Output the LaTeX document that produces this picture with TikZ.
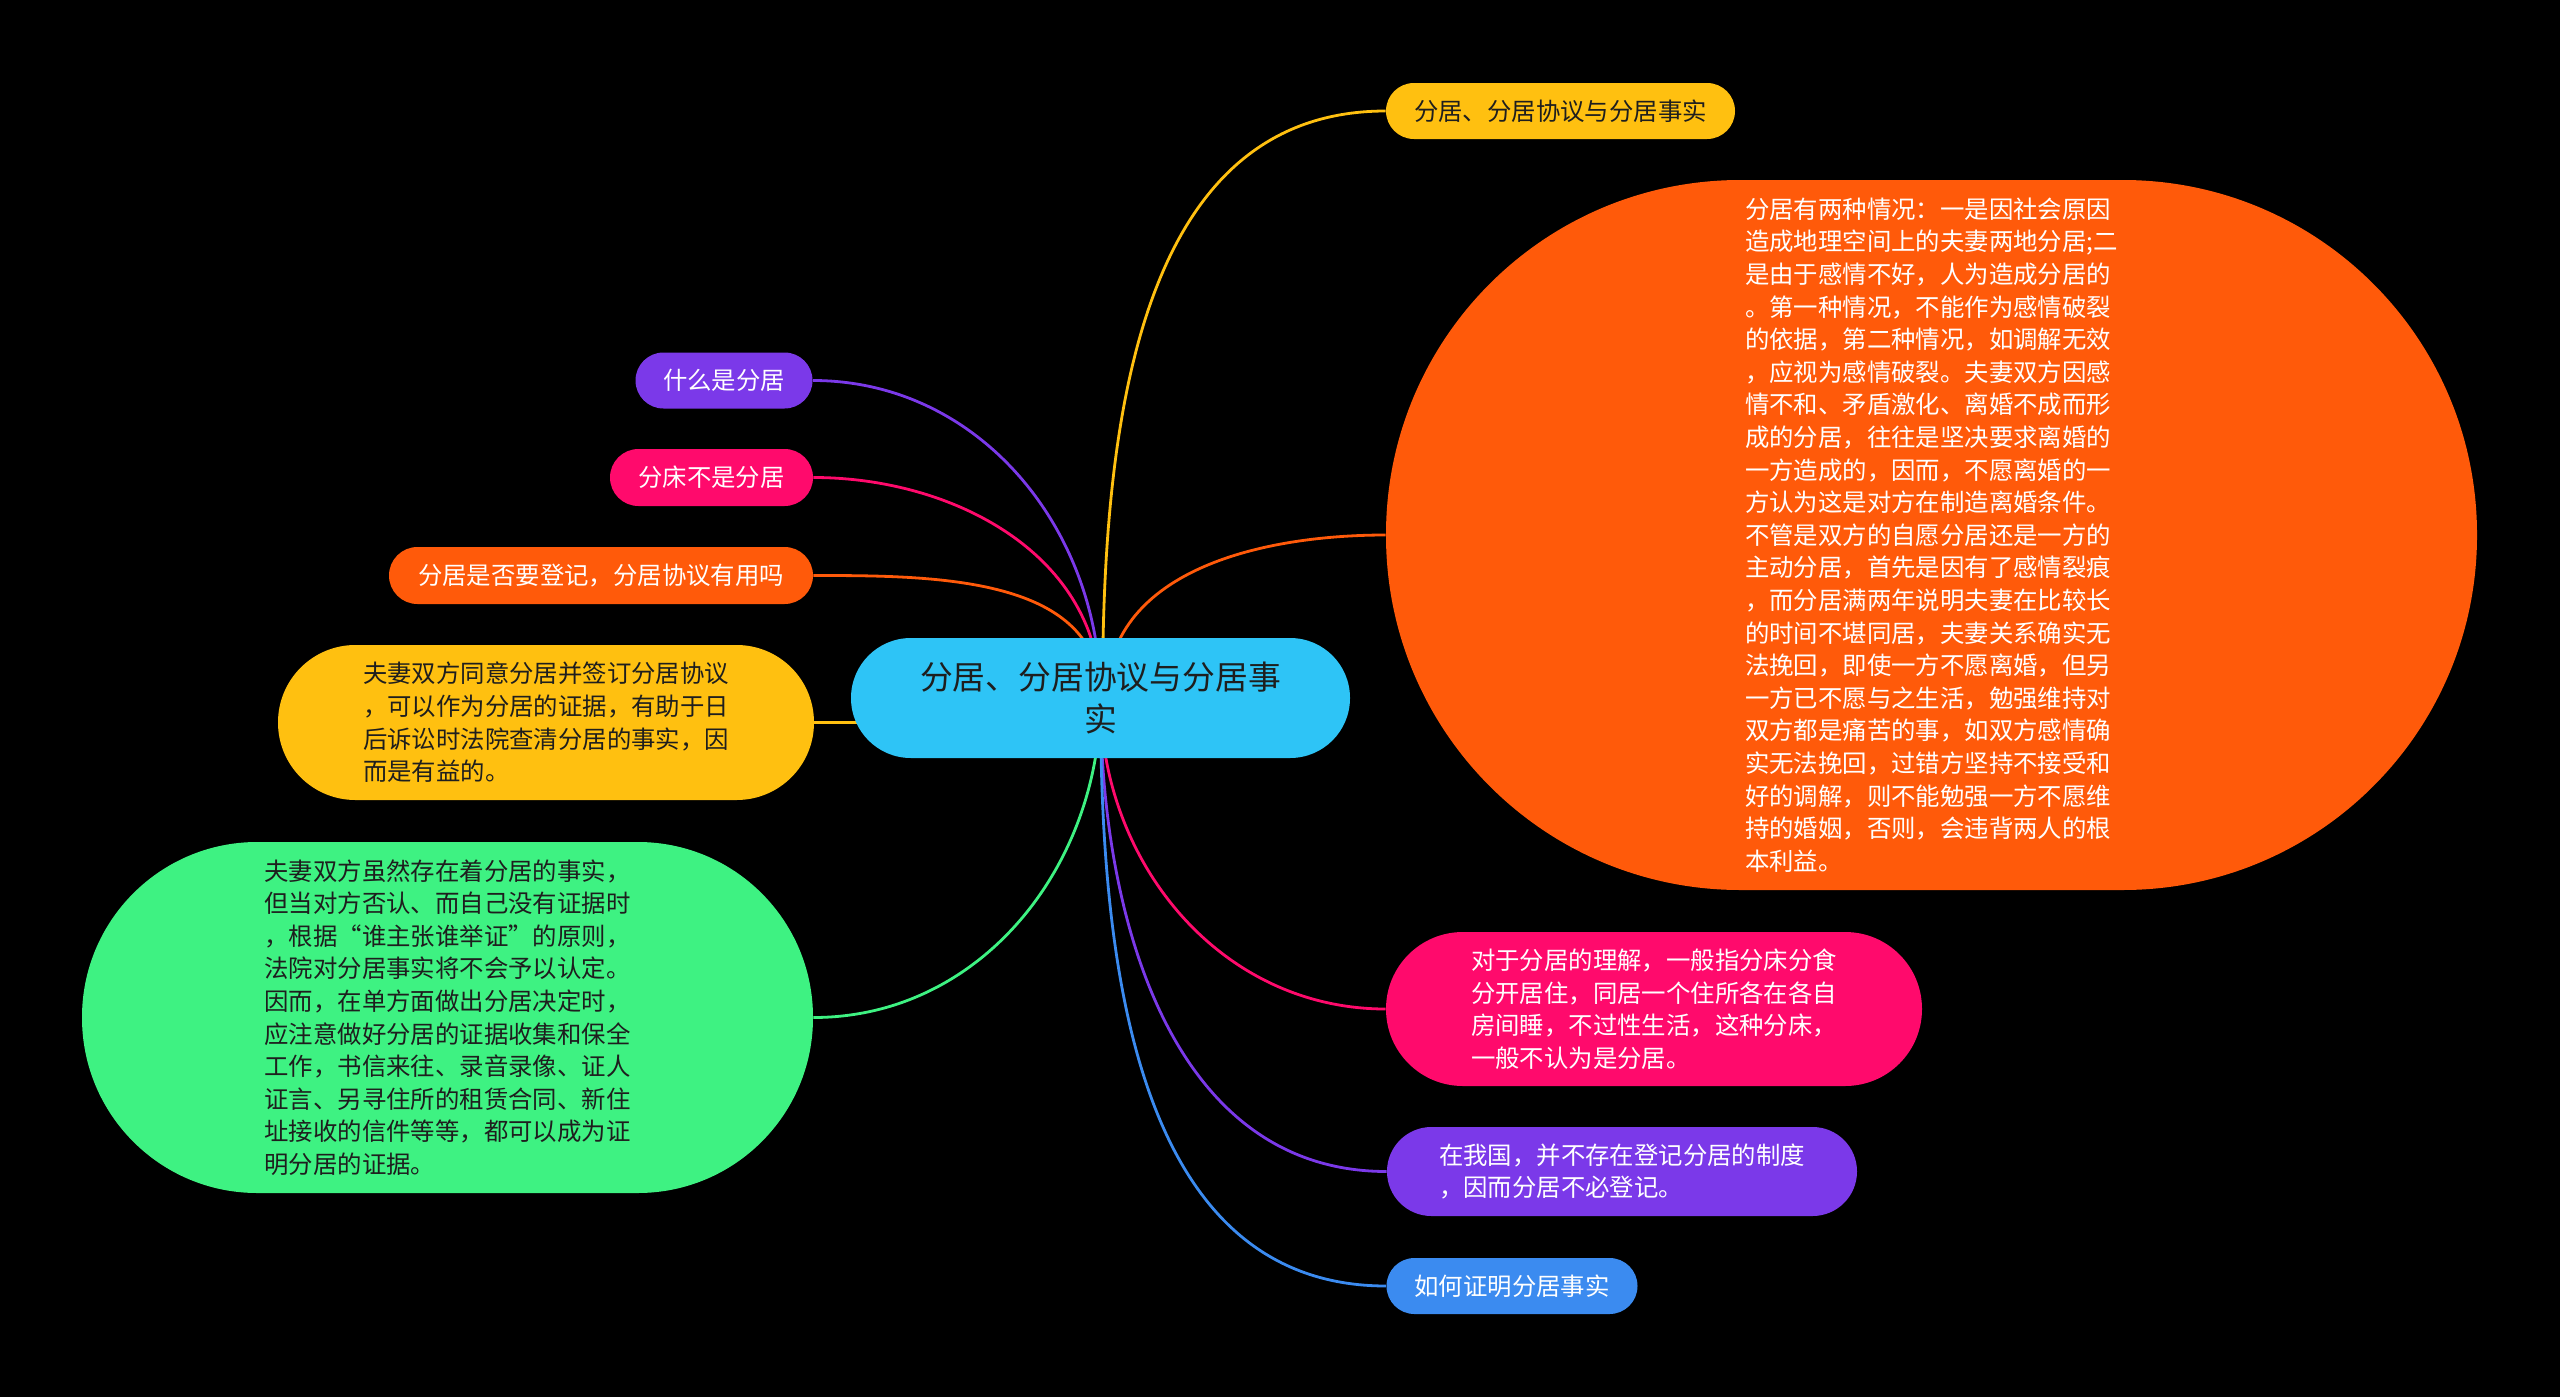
\documentclass[tikz,border=0pt]{standalone}
\usepackage{fontspec}
\setmainfont{Noto Sans CJK SC}
\usetikzlibrary{
	positioning,
	backgrounds
}
\definecolor{rootcolor}{HTML}{2EC4F6}
\definecolor{ambercolor}{HTML}{FFC010}
\definecolor{flamecolor}{HTML}{FF5A0A}
\definecolor{rosecolor}{HTML}{FF0A6C}
\definecolor{violetcolor}{HTML}{7B39E9}
\definecolor{skycolor}{HTML}{3B8BF0}
\definecolor{mintcolor}{HTML}{3EF282}
\definecolor{inkcolor}{HTML}{1E1E1E}
\tikzset{
	topic/.style={
		rectangle,
		inner sep=0pt,
		align=left,
		font=\fontsize{12.2}{16.3}\selectfont
	},
	pill/.style 2 args={
		minimum width=#1,
		minimum height=#2,
		rounded corners=0.499*#2
	},
	darktext/.style={text=inkcolor},
	lighttext/.style={text=white},
	link/.style={
		line width=1.4pt
	}
}

\begin{document}
\begin{tikzpicture}[x=0.5pt, y=-0.5pt]
		\useasboundingbox (0,0) rectangle (2560,1397);
		
		% Root
		\node[topic, pill={249.5pt}{60pt}, fill=rootcolor, darktext, align=center,
		font=\fontsize{16.4}{21}\selectfont] (root) at (1100.5,698)
		{分居、分居协议与分居事\\实};
		
		% Right side
		\node[topic, pill={174.5pt}{28pt}, fill=ambercolor, darktext] (title) at (1560.5,111)
		{分居、分居协议与分居事实};
		
		\node[topic, pill={545.5pt}{355pt}, fill=flamecolor, lighttext] (twokinds) at (1931.5,535)
		{分居有两种情况：一是因社会原因\\
			造成地理空间上的夫妻两地分居;二\\
			是由于感情不好，人为造成分居的\\
			。第一种情况，不能作为感情破裂\\
			的依据，第二种情况，如调解无效\\
			，应视为感情破裂。夫妻双方因感\\
			情不和、矛盾激化、离婚不成而形\\
			成的分居，往往是坚决要求离婚的\\
			一方造成的，因而，不愿离婚的一\\
			方认为这是对方在制造离婚条件。\\
			不管是双方的自愿分居还是一方的\\
			主动分居，首先是因有了感情裂痕\\
			，而分居满两年说明夫妻在比较长\\
			的时间不堪同居，夫妻关系确实无\\
			法挽回，即使一方不愿离婚，但另\\
			一方已不愿与之生活，勉强维持对\\
			双方都是痛苦的事，如双方感情确\\
			实无法挽回，过错方坚持不接受和\\
			好的调解，则不能勉强一方不愿维\\
			持的婚姻，否则，会违背两人的根\\
			本利益。};
		
		\node[topic, pill={268pt}{77pt}, fill=rosecolor, lighttext] (bedsplit) at (1654,1009)
		{对于分居的理解，一般指分床分食\\
			分开居住，同居一个住所各在各自\\
			房间睡，不过性生活，这种分床，\\
			一般不认为是分居。};
		
		\node[topic, pill={235pt}{44.5pt}, fill=violetcolor, lighttext] (noregister) at (1622,1171.5)
		{在我国，并不存在登记分居的制度\\
			，因而分居不必登记。};
		
		\node[topic, pill={125.5pt}{28pt}, fill=skycolor, lighttext] (howprove) at (1512,1286)
		{如何证明分居事实};
		
		% Left side
		\node[topic, pill={88.5pt}{28pt}, fill=violetcolor, lighttext] (whatis) at (724,380.5)
		{什么是分居};
		
		\node[topic, pill={101.5pt}{28.5pt}, fill=rosecolor, lighttext] (notbed) at (711.5,477.5)
		{分床不是分居};
		
		\node[topic, pill={212pt}{28.5pt}, fill=flamecolor, lighttext] (register) at (601,575.5)
		{分居是否要登记，分居协议有用吗};
		
		\node[topic, pill={268pt}{77.5pt}, fill=ambercolor, darktext] (agreement) at (546,722.5)
		{夫妻双方同意分居并签订分居协议\\
			，可以作为分居的证据，有助于日\\
			后诉讼时法院查清分居的事实，因\\
			而是有益的。};
		
		\node[topic, pill={365.5pt}{175.5pt}, fill=mintcolor, darktext] (evidence) at (447.5,1017.5)
		{夫妻双方虽然存在着分居的事实，\\
			但当对方否认、而自己没有证据时\\
			，根据“谁主张谁举证”的原则，\\
			法院对分居事实将不会予以认定。\\
			因而，在单方面做出分居决定时，\\
			应注意做好分居的证据收集和保全\\
			工作，书信来往、录音录像、证人\\
			证言、另寻住所的租赁合同、新住\\
			址接收的信件等等，都可以成为证\\
			明分居的证据。};
		
		% Connectors (start under the root)
		\begin{scope}[on background layer]
			\fill[black] (0,0) rectangle (2560,1397);
			
			\draw[link, ambercolor] ([xshift=1pt]root.center) to[out=90, in=180] (title.west);
			\draw[link, flamecolor] ([xshift=3pt]root.center) to[out=90, in=180] (twokinds.west);
			\draw[link, violetcolor] (root.center) to[out=90, in=0] (whatis.east);
			\draw[link, rosecolor] (root.center) to[out=90, in=0] (notbed.east);
			\draw[link, flamecolor] (root.center) to[out=90, in=0] (register.east);
			\draw[link, ambercolor] (agreement.east) -- (agreement.east -| root.center);
			
			\draw[link, mintcolor] (root.center) to[out=-90, in=0] (evidence.east);
			\draw[link, rosecolor] (root.center) to[out=-90, in=180] (bedsplit.west);
			\draw[link, violetcolor] (root.center) to[out=-90, in=180] (noregister.west);
			\draw[link, skycolor] (root.center) to[out=-90, in=180] (howprove.west);
		\end{scope}
		
	\end{tikzpicture}
\end{document}
